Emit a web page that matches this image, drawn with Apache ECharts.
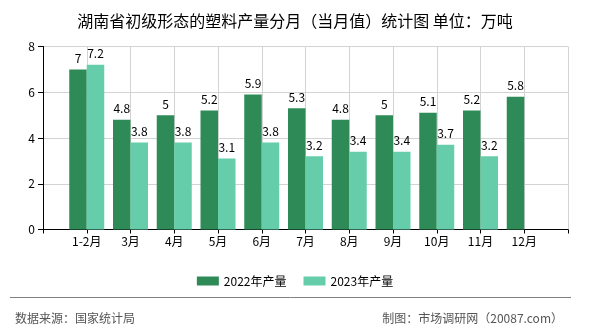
<!DOCTYPE html>
<html>
<head>
<meta charset="utf-8">
<script src="https://cdn.jsdelivr.net/npm/echarts@6/dist/echarts.min.js"></script>
<style>
html,body{margin:0;padding:0;background:#fff;}
#chart{width:590px;height:330px;}
</style>
</head>
<body>
<div id="chart"></div>
<script>
const months = ['1-2月','3月','4月','5月','6月','7月','8月','9月','10月','11月','12月'];
const prod2022 = [7, 4.8, 5, 5.2, 5.9, 5.3, 4.8, 5, 5.1, 5.2, 5.8];
const prod2023 = [7.2, 3.8, 3.8, 3.1, 3.8, 3.2, 3.4, 3.4, 3.7, 3.2, null];
const seriesNames = ['2022年产量','2023年产量'];
const yTicks = [0, 2, 4, 6, 8];

const FONT = '"Noto Sans CJK SC", "Noto Sans", sans-serif';
const cats = [''].concat(months, ['']);
const pad = arr => [null].concat(arr, [null]);

const chart = echarts.init(document.getElementById('chart'), null, {renderer:'canvas'});
const labelOpt = {show:true, position:'top', distance:5, color:'#000', fontSize:12, fontFamily:FONT,
  formatter: p => (p.value == null ? '' : String(p.value))};

chart.setOption({
  animation:false,
  backgroundColor:'#fff',
  textStyle:{fontFamily:FONT},
  title:[
    {text:'湖南省初级形态的塑料产量分月（当月值）统计图 单位：万吨', left:'center', top:8,
     textStyle:{fontSize:16, fontWeight:'normal', color:'#000', fontFamily:FONT}},
    {text:'数据来源：国家统计局', left:10, top:307,
     textStyle:{fontSize:12, fontWeight:'normal', color:'#555', fontFamily:FONT}},
    {text:'制图：市场调研网（20087.com）', right:22, top:307,
     textStyle:{fontSize:12, fontWeight:'normal', color:'#555', fontFamily:FONT}}
  ],
  graphic:[
    {type:'line', shape:{x1:10, y1:297.5, x2:571, y2:297.5}, style:{stroke:'#808080', lineWidth:1}}
  ],
  legend:{
    data:seriesNames, left:'center', top:270, icon:'rect', itemWidth:22, itemHeight:9, itemGap:17,
    textStyle:{fontSize:12, color:'#000', fontFamily:FONT}
  },
  grid:{left:43, right:22, top:46.5, bottom:100.5, containLabel:false},
  xAxis:{
    type:'category', data:cats, boundaryGap:false,
    axisLine:{lineStyle:{color:'#000', width:1}},
    axisTick:{show:true, interval:0, length:4, lineStyle:{color:'#000'}},
    axisLabel:{interval:0, color:'#000', fontSize:12, margin:6, fontFamily:FONT},
    splitLine:{show:true, interval:0, lineStyle:{color:'#d3d3d3', width:1}}
  },
  yAxis:{
    type:'value', min:yTicks[0], max:yTicks[yTicks.length-1], interval:yTicks[1]-yTicks[0],
    axisLine:{show:true, lineStyle:{color:'#000', width:1}},
    axisTick:{show:true, length:5, lineStyle:{color:'#000'}},
    axisLabel:{color:'#000', fontSize:12, margin:8, fontFamily:FONT},
    splitLine:{show:true, lineStyle:{color:'#d3d3d3', width:1}}
  },
  series:[
    {name:seriesNames[0], type:'bar', data:pad(prod2022), barWidth:17.5, barGap:'0%',
     itemStyle:{color:'#2E8B57'}, label:labelOpt},
    {name:seriesNames[1], type:'bar', data:pad(prod2023), barWidth:17.5, barGap:'0%',
     itemStyle:{color:'#66CDAA'}, label:labelOpt}
  ]
});
</script>
</body>
</html>
